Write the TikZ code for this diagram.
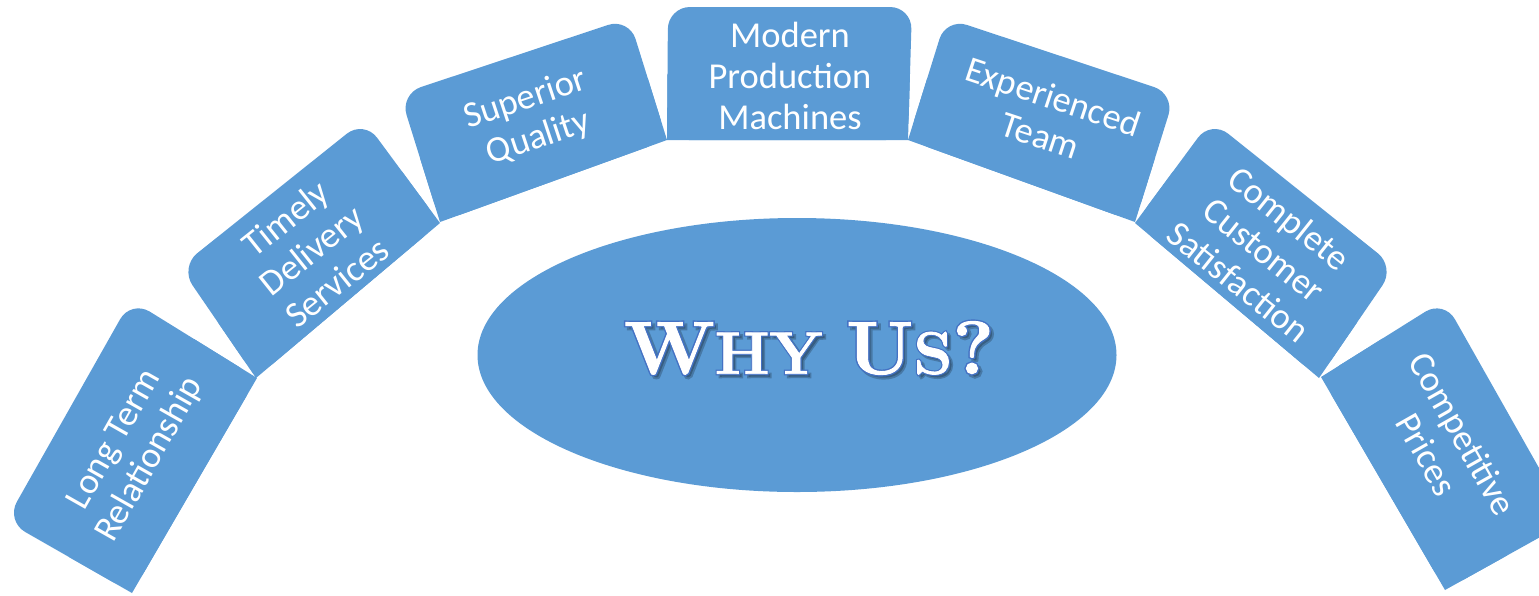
\documentclass[tikz,border=0pt]{standalone}
\usepackage{fontspec}
\setmainfont{Carlito}
\newfontfamily\whyfont{Latin Modern Roman}[FakeBold=1.2]
\newfontfamily\whyfontthick{Latin Modern Roman}[FakeBold=5]
\usetikzlibrary{calc,shapes.geometric}
\definecolor{boxblue}{HTML}{5B9BD5}
\definecolor{outlblue}{HTML}{4472C4}
\newcommand\archblock[4]{%
  \fill[boxblue, rounded corners=22pt] #1 -- #2 -- #3 -- #4 -- cycle;
  \fill[boxblue] ($#4!0.5!#1$) -- ($#3!0.5!#2$) -- #3 -- #4 -- cycle;}
\newcommand\whyletters{\fontsize{75}{75}\selectfont W\fontsize{60}{60}\selectfont HY \fontsize{75}{75}\selectfont U\fontsize{60}{60}\selectfont S\fontsize{75}{75}\selectfont ?}
\begin{document}
\begin{tikzpicture}[x=1pt,y=-1pt,
  lbl/.style={text=white, align=center, inner sep=0pt, font=\fontsize{36.5}{41}\selectfont},
  whystyle/.style={inner sep=0pt, xscale=1.04}]
\useasboundingbox (0,0) rectangle (1539,595);
\clip (0,0) rectangle (1539,595);
% arch blocks
\archblock{(6,521)}{(131,300)}{(257,378)}{(132,593)}
\archblock{(180,267)}{(364,120)}{(440,223)}{(256,378)}
\archblock{(400,94)}{(629,18)}{(667,140)}{(440,222)}
\archblock{(668,7)}{(912,7)}{(908,140)}{(667,140)}
\archblock{(946,18)}{(1175,94)}{(1135,222)}{(908,140)}
\archblock{(1211,120)}{(1395,267)}{(1319,378)}{(1135,223)}
\archblock{(1444,300)}{(1569,521)}{(1445,590)}{(1321,377)}
% labels
\node[lbl, rotate=60.5] (t1) at (133,450) {Long Term\\Relationship};
\node[lbl, rotate=38.6] (t2) at (311,250) {Timely\\Delivery\\Services};
\node[lbl, rotate=18.4] (t3) at (532,119) {Superior\\Quality};
\node[lbl] (t4) at (790,76) {Modern\\Production\\Machines};
\node[lbl, rotate=-18.4] (t5) at (1047,116) {Experienced\\Team};
\node[lbl, rotate=-38.6] (t6) at (1264,250) {Complete\\Customer\\Satisfaction};
\node[lbl, rotate=-60.5] (t7) at (1445,444) {Competitive\\Prices};
% centre
\node[ellipse, fill=boxblue, minimum width=639pt, minimum height=274pt, inner sep=0pt] (core) at (797,355) {};
\node[whystyle, text=black, opacity=0.22] (whyshadow) at (812,351) {\whyfontthick\bfseries\whyletters};
\node[whystyle, text=outlblue] (whyoutline) at (809,348) {\whyfontthick\bfseries\whyletters};
\node[whystyle, text=white] (why) at (809,348) {\whyfont\bfseries\whyletters};
\end{tikzpicture}
\end{document}
